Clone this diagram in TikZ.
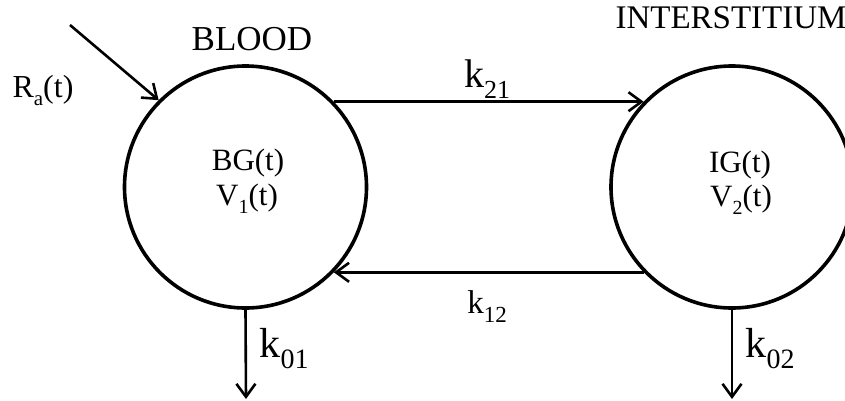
\documentclass[tikz,border=0pt]{standalone}
\usepackage{fontspec}
\setmainfont{Liberation Serif}
\usetikzlibrary{arrows.meta}
\newcommand{\fs}[1]{\fontsize{#1pt}{#1pt}\selectfont}
\newcommand{\mysub}[2]{\raisebox{-0.28em}{\fs{#1}#2}}
\tikzset{
  comp/.style={circle, draw, line width=3.6pt, minimum size=242pt, inner sep=0pt},
  flow/.style={line width=2.6pt, -{Straight Barb[length=13pt,width=19pt,line width=2.6pt]}},
  lbl/.style={anchor=base, inner sep=0pt, font=\fs{31}},
}
\begin{document}
\begin{tikzpicture}[x=1pt,y=-1pt]
\useasboundingbox (0,0) rectangle (845,400);
\clip (0,0) rectangle (845,400);
\node[comp] (bl) at (245.5,187) {};
\node[comp] (ir) at (732,187) {};
% titles
\node[lbl, font=\fs{35}] (tb) at (252,50) {BLOOD};
\node[lbl, font=\fs{33}] (ti) at (731,28) {INTERSTITIUM};
% inner texts
\node[lbl] (bg) at (248,170) {BG(t)};
\node[lbl] (v1) at (247,205) {V\mysub{20}{1}(t)};
\node[lbl] (ig) at (740,172) {IG(t)};
\node[lbl] (v2) at (741,206) {V\mysub{20}{2}(t)};
% input
\coordinate (ra0) at (70,25);
\node[lbl, font=\fs{32}] (ra) at (43,97) {R\mysub{21}{a}(t)};
\draw[flow] (ra0) -- (bl.135);
% exchanges
\draw[flow] (bl.44) -- (ir.136);
\draw[flow] (ir.-136) -- (bl.-44);
\node[lbl, font=\fs{40}] (k21) at (487,87) {k\mysub{26}{21}};
\node[lbl, font=\fs{33}] (k12) at (487,313) {k\mysub{23}{12}};
% outputs
\coordinate (o1) at (246,399);
\coordinate (o2) at (732,399);
\draw[flow] (bl.south) -- (o1);
\draw[flow] (ir.south) -- (o2);
\node[lbl, font=\fs{42}] (k01) at (284,357) {k\mysub{28}{01}};
\node[lbl, font=\fs{42}] (k02) at (770,357) {k\mysub{28}{02}};
\end{tikzpicture}
\end{document}
